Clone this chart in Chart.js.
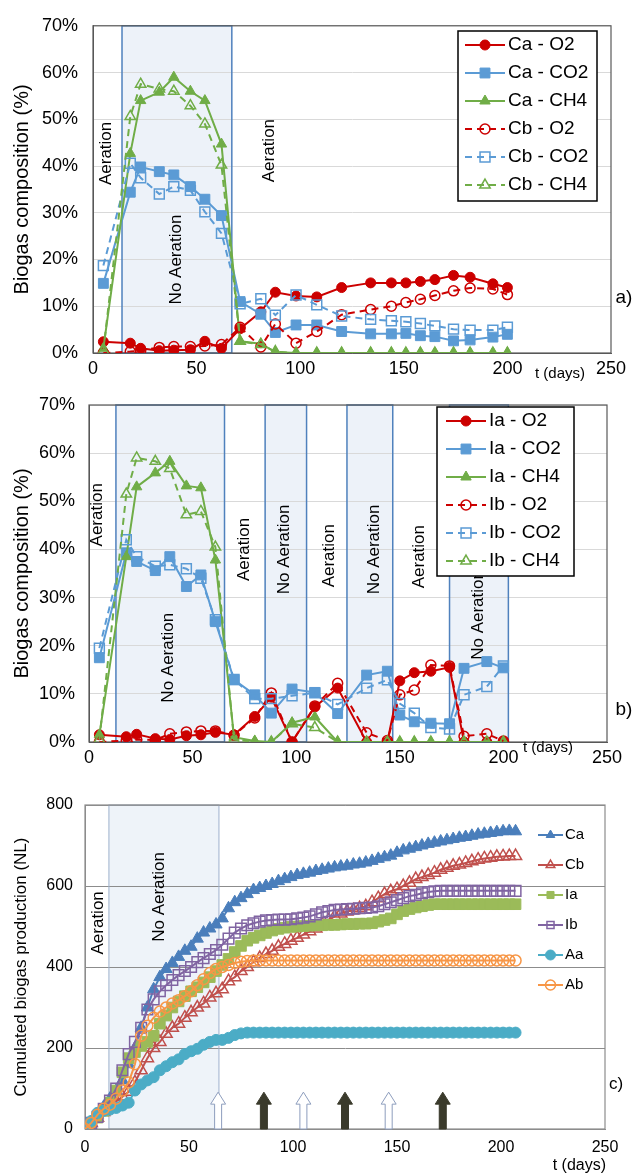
<!DOCTYPE html>
<html lang="en">
<head>
<meta charset="UTF-8">
<title>Biogas composition and cumulated production</title>
<script src="https://cdn.jsdelivr.net/npm/chart.js"></script>
<style>
  body { margin: 0; background: #fff; }
  #wrap { position: relative; width: 644px; height: 1174px; }
  canvas { position: absolute; left: 0; }
</style>
</head>
<body>
<div id="wrap">
  <canvas id="chartA" width="644" height="392" style="top:0px"></canvas>
  <canvas id="chartB" width="644" height="390" style="top:380px"></canvas>
  <canvas id="chartC" width="644" height="404" style="top:770px"></canvas>
</div>
<script>
// ---- panel a) reactors Ca / Cb, gas composition (%)
const daysA = [5, 18, 23, 32, 39, 47, 54, 62, 71, 81, 88, 98, 108, 120, 134, 144, 151, 158, 165, 174, 182, 193, 200];
const caO2  = [2.4, 2.1, 1.0, 0.5, 0.6, 0.7, 2.5, 1.0, 5.2, 8.8, 13.0, 12.2, 12.0, 14.0, 15.0, 15.0, 15.0, 15.3, 15.7, 16.6, 16.2, 14.8, 14.0];
const caCO2 = [14.9, 34.4, 39.8, 38.8, 38.1, 35.6, 32.9, 29.4, 11.0, 8.3, 4.4, 6.0, 6.0, 4.6, 4.1, 4.1, 4.2, 3.7, 3.5, 2.6, 2.8, 3.4, 4.0];
const caCH4 = [1.0, 42.7, 54.0, 55.8, 59.0, 56.0, 54.0, 44.7, 2.5, 2.0, 0.2, 0, 0, 0, 0, 0, 0, 0, 0, 0, 0, 0, 0];
const cbO2  = [0, 0.3, 0.5, 1.2, 1.4, 1.4, 1.5, 1.8, 5.5, 1.3, 6.2, 2.1, 4.6, 8.2, 9.3, 10.0, 10.8, 11.5, 12.3, 13.3, 13.9, 13.7, 12.5];
const cbCO2 = [18.7, 40.6, 37.5, 34.0, 35.6, 34.8, 30.2, 25.6, 10.5, 11.6, 8.1, 12.4, 10.3, 7.9, 7.2, 6.9, 6.7, 6.3, 5.8, 5.1, 4.9, 4.9, 5.5];
const cbCH4 = [0.5, 50.6, 57.5, 56.5, 56.0, 52.9, 49.0, 40.2, 2.5, 1.8, 0.3, 0, 0, 0, 0, 0, 0, 0, 0, 0, 0, 0, 0];

// ---- panel b) reactors Ia / Ib
const daysB = [5, 18, 23, 32, 39, 47, 54, 61, 70, 80, 88, 98, 109, 120, 134, 144, 150, 157, 165, 174, 181, 192, 200];
const iaO2  = [1.5, 1.1, 1.6, 0.7, 0.5, 1.3, 1.5, 2.0, 1.5, 5.3, 9.3, 0, 7.3, 11.2, 0, 0, 12.7, 14.4, 14.7, 15.5, 0, 0, 0];
const iaCO2 = [17.5, 39.3, 37.5, 35.6, 38.5, 32.3, 34.7, 25.0, 12.9, 9.8, 6.0, 11.0, 10.3, 5.9, 13.9, 14.7, 5.6, 4.2, 3.9, 3.8, 15.3, 16.7, 15.4];
const iaCH4 = [1.5, 38.5, 53.0, 55.9, 58.3, 53.2, 52.8, 37.8, 1.0, 0.2, 0, 4.0, 5.2, 0, 0, 0, 0, 0, 0, 0, 0, 0, 0];
const ibO2  = [0, 0.3, 0.5, 0.4, 1.7, 2.1, 2.3, 2.3, 1.4, 5.0, 10.2, 0, 7.5, 12.2, 1.9, 0.3, 9.8, 10.8, 16.0, 15.8, 1.2, 1.7, 0.2];
const ibCO2 = [19.5, 42.0, 38.5, 36.5, 36.8, 36.0, 34.0, 25.4, 13.0, 9.0, 9.0, 9.6, 10.2, 7.8, 11.2, 12.9, 8.0, 6.0, 3.0, 2.7, 9.8, 11.5, 15.8];
const ibCH4 = [0.5, 51.5, 59.0, 58.3, 56.8, 47.2, 47.9, 40.5, 0.5, 0, 0, 3.8, 3.0, 0, 0, 0, 0, 0, 0, 0, 0, 0, 0];

// ---- panel c) cumulated biogas production (NL)
const daysC = [0, 3, 6, 9, 12, 15, 18, 21, 24, 27, 30, 33, 36, 39, 42, 45, 48, 51, 54, 57,
  60, 63, 66, 69, 72, 75, 78, 81, 84, 87, 90, 93, 96, 99, 102, 105, 108, 111, 114, 117,
  120, 123, 126, 129, 132, 135, 138, 141, 144, 147, 150, 153, 156, 159, 162, 165, 168, 171, 174, 177,
  180, 183, 186, 189, 192, 195, 198, 201, 204, 207];
const prodCa = [0, 15, 35, 55, 75, 95, 120, 160, 200, 250,
  300, 345, 375, 395, 410, 425, 440, 450, 470, 485,
  495, 505, 520, 545, 560, 570, 580, 590, 595, 600,
  605, 612, 617, 622, 627, 630, 633, 637, 640, 643,
  646, 648, 650, 653, 655, 658, 662, 667, 671, 675,
  682, 688, 692, 696, 700, 704, 707, 710, 713, 716,
  719, 721, 724, 727, 729, 731, 733, 735, 736, 735];
const prodCb = [0, 15, 28, 42, 55, 68, 80, 92, 115, 145,
  175, 200, 215, 235, 250, 260, 275, 288, 300, 310,
  325, 335, 345, 365, 375, 390, 400, 412, 422, 432,
  440, 450, 457, 465, 472, 480, 488, 495, 505, 515,
  525, 532, 537, 540, 545, 550, 560, 570, 580, 587,
  592, 600, 608, 617, 622, 627, 633, 640, 645, 650,
  653, 657, 661, 665, 668, 670, 672, 673, 674, 674];
const prodIa = [0, 12, 28, 45, 65, 95, 140, 175, 190, 205,
  215, 230, 260, 280, 300, 315, 328, 340, 350, 362,
  375, 390, 405, 420, 437, 452, 465, 472, 478, 484,
  490, 494, 497, 499, 500, 501, 502, 503, 503, 504,
  504, 505, 506, 506, 507, 507, 508, 512, 516, 520,
  530, 538, 543, 547, 550, 553, 555, 555, 555, 555,
  555, 555, 555, 555, 555, 555, 555, 555, 555, 555];
const prodIb = [0, 15, 30, 50, 70, 100, 145, 185, 215, 250,
  295, 320, 340, 355, 368, 380, 390, 400, 412, 422,
  432, 442, 455, 470, 485, 495, 503, 508, 512, 515,
  516, 517, 517, 518, 520, 522, 525, 530, 535, 538,
  541, 542, 543, 544, 545, 546, 547, 550, 555, 560,
  565, 570, 575, 578, 582, 585, 587, 588, 588, 588,
  588, 588, 588, 588, 588, 588, 588, 588, 588, 588];
const prodAa = [0, 20, 40, 45, 48, 52, 58, 65, 95, 110,
  120, 128, 145, 155, 165, 172, 185, 192, 198, 208,
  215, 220, 220, 225, 232, 236, 238, 238, 238, 238,
  238, 238, 238, 238, 238, 238, 238, 238, 238, 238,
  238, 238, 238, 238, 238, 238, 238, 238, 238, 238,
  238, 238, 238, 238, 238, 238, 238, 238, 238, 238,
  238, 238, 238, 238, 238, 238, 238, 238, 238, 238];
const prodAb = [0, 15, 35, 50, 60, 75, 95, 115, 160, 230,
  255, 275, 290, 300, 310, 318, 328, 340, 355, 370,
  385, 395, 400, 405, 410, 413, 415, 416, 416, 416,
  416, 416, 416, 416, 416, 416, 416, 416, 416, 416,
  416, 416, 416, 416, 416, 416, 416, 416, 416, 416,
  416, 416, 416, 416, 416, 416, 416, 416, 416, 416,
  416, 416, 416, 416, 416, 416, 416, 416, 416, 416];

// tick labels
const dayTicks = [0, 50, 100, 150, 200, 250];
const pctTicks = [0, 10, 20, 30, 40, 50, 60, 70];
const prodTicks = [0, 200, 400, 600, 800];

// no aeration periods (days) and aeration switch arrows (days)
const noAerA = [[14, 67]];
const noAerB = [[13, 65.4], [85, 105], [124.5, 146.6], [174, 202.4]];
const noAerC = [[11.5, 64.4]];
const arrowOpenDays = [64, 105, 146];
const arrowFilledDays = [86, 125, 172];
const arrowTop = 91;

const FONT = "'Liberation Sans', Arial, sans-serif";
const RED = '#cc0000', BLUE = '#5b9bd5', GREEN = '#70ad47';

function makeSeries(label, days, vals, color, style, open, dashed, r, i) {
  return {
    label: label,
    data: days.map((t, k) => ({ x: t, y: vals[k] })),
    borderColor: color,
    backgroundColor: color,
    borderWidth: 2,
    borderDash: dashed ? [7, 5] : [],
    pointStyle: style,
    pointRadius: r,
    pointBackgroundColor: open ? 'rgba(0,0,0,0)' : color,
    pointBorderColor: color,
    pointBorderWidth: open ? 1.5 : 1,
    openMark: open,
    tension: 0,
    order: 20 - i
  };
}

function drawMarker(ctx, style, x, y, r, color, open) {
  ctx.save();
  ctx.setLineDash([]);
  ctx.beginPath();
  if (style === 'circle') {
    ctx.arc(x, y, r, 0, Math.PI * 2);
  } else if (style === 'rect') {
    const s = r * Math.SQRT1_2;
    ctx.rect(x - s, y - s, 2 * s, 2 * s);
  } else {
    let a = 0;
    ctx.moveTo(x + Math.sin(a) * r, y - Math.cos(a) * r);
    a += Math.PI * 2 / 3;
    ctx.lineTo(x + Math.sin(a) * r, y - Math.cos(a) * r);
    a += Math.PI * 2 / 3;
    ctx.lineTo(x + Math.sin(a) * r, y - Math.cos(a) * r);
    ctx.closePath();
  }
  ctx.strokeStyle = color;
  ctx.lineWidth = open ? 1.5 : 1;
  if (!open) { ctx.fillStyle = color; ctx.fill(); }
  ctx.stroke();
  ctx.restore();
}

function decor(cfg) {
  return {
    id: 'decor',
    beforeDraw(chart) {
      const { ctx, chartArea: a } = chart;
      const x = chart.scales.x;
      ctx.save();
      ctx.fillStyle = cfg.bandFill;
      cfg.bands.forEach(b => {
        const x0 = x.getPixelForValue(b[0]), x1 = x.getPixelForValue(b[1]);
        ctx.fillRect(x0, a.top, x1 - x0, a.bottom - a.top);
      });
      ctx.restore();
    },
    beforeDatasetsDraw(chart) {
      const { ctx, chartArea: a } = chart;
      const x = chart.scales.x, y = chart.scales.y;
      ctx.save();
      ctx.strokeStyle = cfg.bandLine;
      ctx.lineWidth = cfg.bandLineWidth;
      cfg.bands.forEach(b => {
        const x0 = x.getPixelForValue(b[0]), x1 = x.getPixelForValue(b[1]);
        ctx.strokeRect(x0, a.top, x1 - x0, a.bottom - a.top);
      });
      ctx.strokeStyle = cfg.boxColor;
      ctx.lineWidth = 1.2;
      ctx.strokeRect(a.left, a.top, a.right - a.left, a.bottom - a.top);

      ctx.fillStyle = '#000';
      ctx.font = '17px ' + FONT;
      ctx.textAlign = 'center';
      ctx.textBaseline = 'middle';
      cfg.notes.forEach(n => {
        ctx.save();
        ctx.translate(x.getPixelForValue(n.t), y.getPixelForValue(n.v));
        ctx.rotate(-Math.PI / 2);
        ctx.fillText(n.text, 0, 0);
        ctx.restore();
      });
      ctx.restore();
    },
    afterDatasetsDraw(chart) {
      const { ctx } = chart;
      const x = chart.scales.x, y = chart.scales.y;
      ctx.save();

      // arrows marking aeration on / off
      (cfg.arrows || []).forEach(ar => {
        const xc = x.getPixelForValue(ar.t), yb = y.getPixelForValue(0), yt = y.getPixelForValue(arrowTop);
        ctx.beginPath();
        ctx.moveTo(xc - 3.5, yb);
        ctx.lineTo(xc - 3.5, yt + 12);
        ctx.lineTo(xc - 7.5, yt + 12);
        ctx.lineTo(xc, yt);
        ctx.lineTo(xc + 7.5, yt + 12);
        ctx.lineTo(xc + 3.5, yt + 12);
        ctx.lineTo(xc + 3.5, yb);
        ctx.closePath();
        ctx.fillStyle = ar.filled ? '#3a3a2b' : '#ffffff';
        ctx.fill();
        ctx.strokeStyle = ar.filled ? '#3a3a2b' : '#8d9dbd';
        ctx.lineWidth = 1;
        ctx.stroke();
      });

      // legend
      const L = cfg.legend;
      if (L.box) {
        ctx.fillStyle = '#fff';
        ctx.fillRect(L.box[0], L.box[1], L.box[2] - L.box[0], L.box[3] - L.box[1]);
        ctx.strokeStyle = '#000';
        ctx.lineWidth = 1.5;
        ctx.strokeRect(L.box[0], L.box[1], L.box[2] - L.box[0], L.box[3] - L.box[1]);
      }
      chart.data.datasets.forEach((ds, i) => {
        const yy = L.y0 + i * L.step;
        ctx.strokeStyle = ds.borderColor;
        ctx.lineWidth = 2;
        ctx.setLineDash(ds.borderDash);
        ctx.beginPath();
        ctx.moveTo(L.x1, yy);
        ctx.lineTo(L.x2, yy);
        ctx.stroke();
        ctx.setLineDash([]);
        drawMarker(ctx, ds.pointStyle, (L.x1 + L.x2) / 2, yy, L.r || ds.pointRadius, ds.borderColor, ds.openMark);
        ctx.fillStyle = '#000';
        ctx.font = L.font;
        ctx.textAlign = 'left';
        ctx.textBaseline = 'middle';
        ctx.fillText(ds.label, L.tx, yy);
      });

      // free texts: axis unit, panel letter
      cfg.texts.forEach(t => {
        ctx.fillStyle = '#000';
        ctx.font = t.font;
        ctx.textAlign = t.align || 'center';
        ctx.textBaseline = 'middle';
        ctx.fillText(t.text, t.x, t.y);
      });
      ctx.restore();
    }
  };
}

function buildChart(id, datasets, cfg) {
  return new Chart(document.getElementById(id), {
    type: 'line',
    data: { datasets: datasets },
    options: {
      responsive: false,
      animation: false,
      events: [],
      layout: { padding: { top: cfg.top, right: cfg.right, left: 0, bottom: 0 } },
      plugins: { legend: { display: false }, tooltip: { enabled: false } },
      scales: {
        x: {
          type: 'linear', min: 0, max: 250,
          afterBuildTicks: s => { s.ticks = dayTicks.map(v => ({ value: v })); },
          afterFit: s => { s.height = cfg.xHeight; },
          ticks: { color: '#000', font: { family: FONT, size: cfg.tickSize }, padding: cfg.xPad, maxRotation: 0, autoSkip: false },
          grid: { display: false, drawTicks: false },
          border: { display: true, color: cfg.boxColor }
        },
        y: {
          min: cfg.yMin, max: cfg.yMax,
          afterBuildTicks: s => { s.ticks = cfg.yTicks.map(v => ({ value: v })); },
          afterFit: s => { s.width = cfg.yWidth; },
          ticks: { color: '#000', font: { family: FONT, size: cfg.tickSize }, padding: cfg.yPad, callback: cfg.yFmt, autoSkip: false },
          grid: { color: cfg.gridColor, drawTicks: false },
          border: { display: true, color: cfg.boxColor },
          title: { display: true, text: cfg.yTitle, color: '#000', font: { family: FONT, size: cfg.titleSize }, padding: { top: cfg.titlePad, bottom: 0 } }
        }
      }
    },
    plugins: [decor(cfg)]
  });
}

// panel a
buildChart('chartA', [
  makeSeries('Ca - O2', daysA, caO2, RED, 'circle', false, false, 5, 0),
  makeSeries('Ca - CO2', daysA, caCO2, BLUE, 'rect', false, false, 7, 1),
  makeSeries('Ca - CH4', daysA, caCH4, GREEN, 'triangle', false, false, 6, 2),
  makeSeries('Cb - O2', daysA, cbO2, RED, 'circle', true, true, 5, 3),
  makeSeries('Cb - CO2', daysA, cbCO2, BLUE, 'rect', true, true, 7, 4),
  makeSeries('Cb - CH4', daysA, cbCH4, GREEN, 'triangle', true, true, 6, 5)
], {
  top: 17, right: 33, xHeight: 39, yWidth: 93, xPad: 5, yPad: 15,
  yMin: 0, yMax: 70, yTicks: pctTicks, yFmt: v => v + '%',
  tickSize: 18, titleSize: 20, titlePad: 10, yTitle: 'Biogas composition (%)',
  gridColor: '#d9d9d9', boxColor: '#595959',
  bands: noAerA, bandFill: 'rgba(91,135,200,0.11)', bandLine: '#4f81bd', bandLineWidth: 1.5,
  notes: [
    { t: 6.3, v: 42.7, text: 'Aeration' },
    { t: 40, v: 20, text: 'No Aeration' },
    { t: 85, v: 43.3, text: 'Aeration' }
  ],
  legend: { box: [458, 31, 597, 201], y0: 45, step: 28, x1: 465, x2: 505, tx: 508, font: '19px ' + FONT },
  texts: [
    { text: 't (days)', x: 560, y: 374, font: '15px ' + FONT },
    { text: 'a)', x: 624, y: 298, font: '19px ' + FONT }
  ]
});

// panel b
buildChart('chartB', [
  makeSeries('Ia - O2', daysB, iaO2, RED, 'circle', false, false, 5, 0),
  makeSeries('Ia - CO2', daysB, iaCO2, BLUE, 'rect', false, false, 7, 1),
  makeSeries('Ia - CH4', daysB, iaCH4, GREEN, 'triangle', false, false, 6, 2),
  makeSeries('Ib - O2', daysB, ibO2, RED, 'circle', true, true, 5, 3),
  makeSeries('Ib - CO2', daysB, ibCO2, BLUE, 'rect', true, true, 7, 4),
  makeSeries('Ib - CH4', daysB, ibCH4, GREEN, 'triangle', true, true, 6, 5)
], {
  top: 25, right: 37, xHeight: 28, yWidth: 89, xPad: 5, yPad: 14,
  yMin: 0, yMax: 70, yTicks: pctTicks, yFmt: v => v + '%',
  tickSize: 18, titleSize: 20, titlePad: 10, yTitle: 'Biogas composition (%)',
  gridColor: '#d9d9d9', boxColor: '#595959',
  bands: noAerB, bandFill: 'rgba(91,135,200,0.11)', bandLine: '#4f81bd', bandLineWidth: 1.5,
  notes: [
    { t: 3.8, v: 47.2, text: 'Aeration' },
    { t: 38.5, v: 17.5, text: 'No Aeration' },
    { t: 75, v: 40, text: 'Aeration' },
    { t: 94.2, v: 40, text: 'No Aeration' },
    { t: 116, v: 38.7, text: 'Aeration' },
    { t: 137.5, v: 40, text: 'No Aeration' },
    { t: 159.6, v: 38.5, text: 'Aeration' },
    { t: 188, v: 26.4, text: 'No Aeration' }
  ],
  legend: { box: [437, 27, 574, 196], y0: 41, step: 28, x1: 446, x2: 486, tx: 489, font: '19px ' + FONT },
  texts: [
    { text: 't (days)', x: 548, y: 368, font: '15px ' + FONT },
    { text: 'b)', x: 624, y: 330, font: '19px ' + FONT }
  ]
});

// panel c
buildChart('chartC', [
  makeSeries('Ca', daysC, prodCa, '#4a7ebb', 'triangle', false, false, 7, 0),
  makeSeries('Cb', daysC, prodCb, '#c0504d', 'triangle', true, false, 7, 1),
  makeSeries('Ia', daysC, prodIa, '#9bbb59', 'rect', false, false, 7.5, 2),
  makeSeries('Ib', daysC, prodIb, '#8064a2', 'rect', true, false, 7.5, 3),
  makeSeries('Aa', daysC, prodAa, '#4bacc6', 'circle', false, false, 5.5, 4),
  makeSeries('Ab', daysC, prodAb, '#f79646', 'circle', true, false, 5.5, 5)
], {
  top: 35, right: 39, xHeight: 45, yWidth: 85, xPad: 9, yPad: 12,
  yMin: 0, yMax: 800, yTicks: prodTicks, yFmt: v => v,
  tickSize: 16, titleSize: 17, titlePad: 11, yTitle: 'Cumulated biogas production (NL)',
  gridColor: '#8c8c8c', boxColor: '#8c8c8c',
  bands: noAerC, bandFill: 'rgba(91,135,200,0.10)', bandLine: '#9db0cc', bandLineWidth: 1,
  notes: [
    { t: 6.3, v: 509, text: 'Aeration' },
    { t: 35.6, v: 573, text: 'No Aeration' }
  ],
  arrows: arrowOpenDays.map(t => ({ t: t, filled: false })).concat(arrowFilledDays.map(t => ({ t: t, filled: true }))),
  legend: { box: null, y0: 65, step: 30, x1: 538, x2: 563, tx: 565, font: '15px ' + FONT, r: 5 },
  texts: [
    { text: 't (days)', x: 606, y: 396, font: '16px ' + FONT, align: 'right' },
    { text: 'c)', x: 616, y: 314, font: '17px ' + FONT }
  ]
});
</script>
</body>
</html>
